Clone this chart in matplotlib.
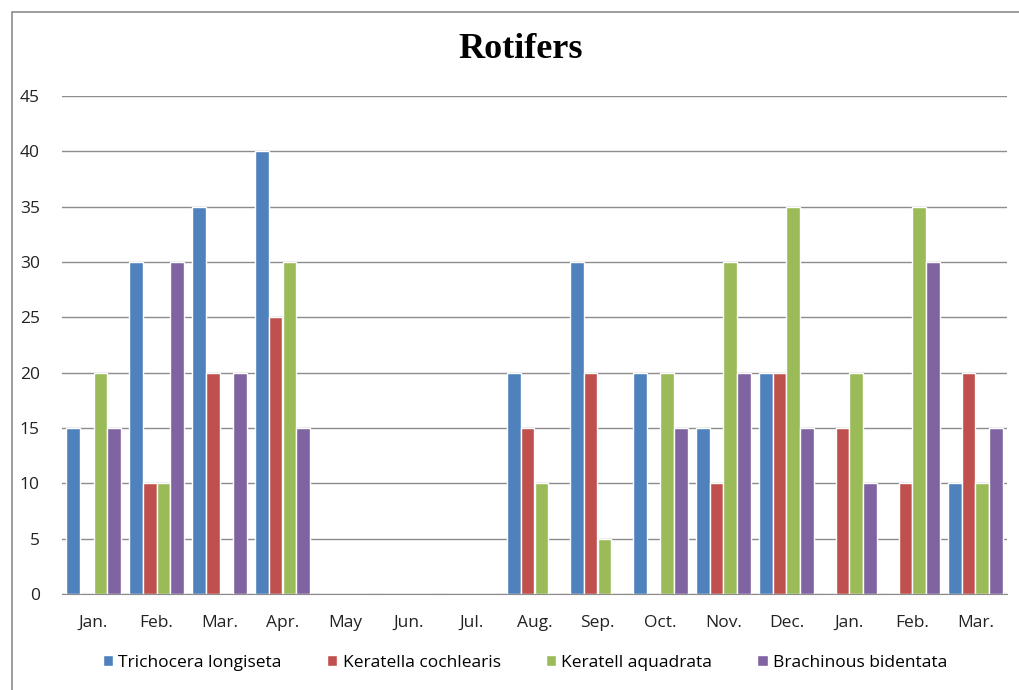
import numpy as np
import matplotlib.pyplot as plt
from matplotlib.patches import Rectangle

months = ['Jan.', 'Feb.', 'Mar.', 'Apr.', 'May', 'Jun.', 'Jul.', 'Aug.',
          'Sep.', 'Oct.', 'Nov.', 'Dec.', 'Jan.', 'Feb.', 'Mar.']
trichocera = [15, 30, 35, 40, 0, 0, 0, 20, 30, 20, 15, 20, 0, 0, 10]
keratella_c = [0, 10, 20, 25, 0, 0, 0, 15, 20, 0, 10, 20, 15, 10, 20]
keratell_a = [20, 10, 0, 30, 0, 0, 0, 10, 5, 20, 30, 35, 20, 35, 10]
brachinous = [15, 30, 20, 15, 0, 0, 0, 0, 0, 15, 20, 15, 10, 30, 15]

series = [trichocera, keratella_c, keratell_a, brachinous]
names = ['Trichocera longiseta', 'Keratella cochlearis',
         'Keratell aquadrata', 'Brachinous bidentata']
colors = ['#4F81BD', '#C0504D', '#9BBB59', '#8064A2']

fig = plt.figure(figsize=(10.19, 6.90), dpi=100)
fig.patches.append(Rectangle((12 / 1019, -0.1), 1.2, 1 - 12 / 690 + 0.1,
                             transform=fig.transFigure, fill=False,
                             edgecolor='#8c8c8c', linewidth=1.2))

ax = fig.add_axes([62 / 1019, 1 - 594 / 690, (1007 - 62) / 1019, (594 - 96) / 690])

x = np.arange(len(months))
step = 0.222
for i, (vals, name, c) in enumerate(zip(series, names, colors)):
    ax.bar(x + (i - 1.5) * step, vals, width=step, color=c,
           edgecolor='white', linewidth=1.0, label=name, zorder=3)

ax.set_xlim(-0.5, len(months) - 0.5)
ax.set_ylim(0, 45)
ax.set_yticks(range(0, 50, 5))
ax.set_xticks(x)
ax.set_xticklabels(months)
ax.grid(axis='y', color='#8c8c8c', linewidth=1.0, zorder=0)
for side in ['top', 'right', 'left']:
    ax.spines[side].set_visible(False)
ax.spines['bottom'].set_color('#8c8c8c')
ax.spines['bottom'].set_zorder(4)
ax.tick_params(length=0, labelsize=12.5, colors='#222222')
ax.tick_params(axis='x', pad=15)
ax.tick_params(axis='y', pad=16)
for lab in ax.get_xticklabels() + ax.get_yticklabels():
    lab.set_fontfamily('Open Sans')

fig.text(0.511, 1 - 50 / 690, 'Rotifers', ha='center', va='center',
         fontsize=26, fontweight='bold', family='Liberation Serif')

ax.legend(loc='center', bbox_to_anchor=(525 / 1019, 1 - 663 / 690),
          bbox_transform=fig.transFigure, ncol=4, frameon=False,
          prop={'family': 'Open Sans', 'size': 12.5}, handlelength=0.6,
          handleheight=0.6, handletextpad=0.3, columnspacing=2.6)

fig.savefig('out.png', dpi=100)
